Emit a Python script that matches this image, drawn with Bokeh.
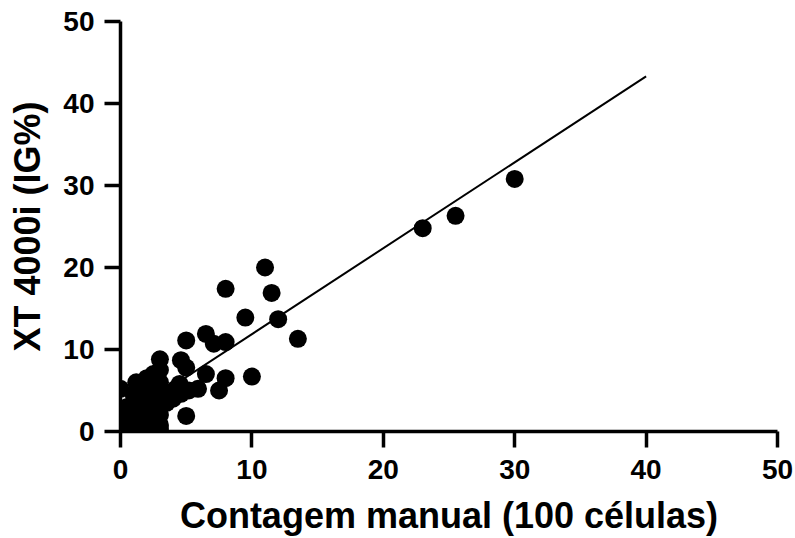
from bokeh.plotting import figure
from bokeh.models import Range1d, FixedTicker
from bokeh.embed import file_html
from bokeh.resources import INLINE

# Manual count (x) vs XT 4000i IG% (y)
manual = [30, 23, 25.5, 11, 8, 11.5, 9.5, 12, 13.5, 10,
          5, 6.5, 7.1, 8, 3, 4.6, 5, 6.5, 8, 7.5, 5.9, 4.5, 5, 0, 4.6, 5.2,
          0, 0, 0, 0, 0, 0.5, 0.5, 0.5, 0.5, 1, 1, 1, 1, 1, 1.2,
          1.5, 1.5, 1.5, 1.5, 2, 2, 2, 2, 2, 2, 2, 2.5, 2.5, 2.5, 2.5, 2.5,
          3, 3, 3, 3, 3, 3, 3.5, 4, 4, 3.5, 4.2, 2, 1, 3, 2.8]
xt4000i = [30.8, 24.8, 26.3, 20, 17.4, 16.9, 13.9, 13.7, 11.3, 6.7,
           11.1, 11.9, 10.7, 10.9, 8.8, 8.7, 7.8, 7.0, 6.5, 5.0, 5.2, 5.8, 1.9, 5.2, 4.6, 5.0,
           0, 0.5, 1, 1.5, 2.2, 0.3, 1, 2, 3, 0.5, 1.5, 2.5, 3.5, 4.5, 6,
           1, 2, 3, 5, 0.5, 1.5, 2.5, 3.5, 4.5, 5.5, 6.5, 1, 2, 3.5, 5, 7,
           0.8, 2, 3, 4.2, 6, 7.5, 4.8, 4.5, 4, 3.5, 5.2, 0, 0, 0.3, 1.5]

# regression line endpoints
fit_x = [0, 40]
fit_y = [1.4, 43.3]

x_ticks = [0, 10, 20, 30, 40, 50]
y_ticks = [0, 10, 20, 30, 40, 50]

FONT = "Liberation Sans"

p = figure(width=795, height=538, output_backend="svg", toolbar_location=None,
           x_range=Range1d(0, 50), y_range=Range1d(0, 50),
           min_border_left=120, min_border_right=18, min_border_top=21, min_border_bottom=107)
p.outline_line_color = None
p.grid.grid_line_color = None
p.background_fill_color = "white"
p.border_fill_color = "white"

p.line(fit_x, fit_y, line_color="black", line_width=2)
p.scatter(manual, xt4000i, size=18, fill_color="black", line_color="black", line_width=0)

for ax in (p.xaxis[0], p.yaxis[0]):
    ax.axis_line_width = 3.5
    ax.axis_line_color = "black"
    ax.major_tick_line_width = 3.5
    ax.major_tick_line_color = "black"
    ax.major_tick_out = 16
    ax.major_tick_in = 0
    ax.minor_tick_line_color = None
    ax.major_label_text_font = FONT
    ax.major_label_text_font_style = "bold"
    ax.major_label_text_font_size = "28px"
    ax.major_label_text_color = "black"
    ax.axis_label_text_font = FONT
    ax.axis_label_text_font_style = "bold"
    ax.axis_label_text_font_size = "36px"
    ax.axis_label_text_color = "black"

p.xaxis.ticker = FixedTicker(ticks=x_ticks)
p.yaxis.ticker = FixedTicker(ticks=y_ticks)
p.xaxis.axis_label = "Contagem manual (100 células)"
p.yaxis.axis_label = "XT 4000i (IG%)"
p.xaxis.major_label_standoff = 12
p.yaxis.major_label_standoff = 10
p.xaxis.axis_label_standoff = 13
p.yaxis.axis_label_standoff = 12

open("out.html", "w").write(file_html(p, INLINE))
